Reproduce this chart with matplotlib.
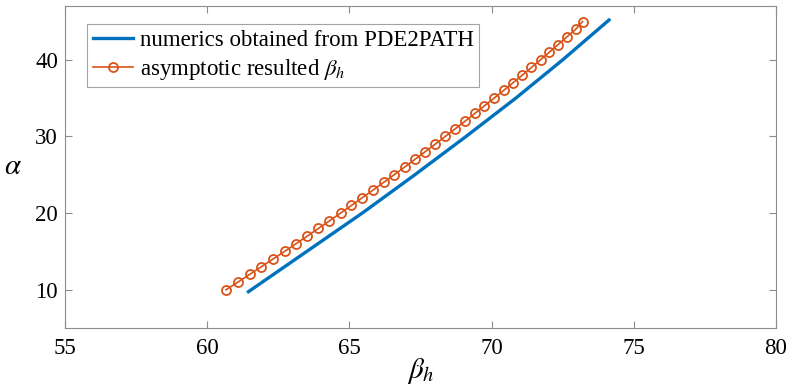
import numpy as np
import matplotlib.pyplot as plt

plt.rcParams['font.family'] = ['Liberation Serif', 'DejaVu Serif']
plt.rcParams['mathtext.fontset'] = 'stix'

# asymptotic result, one point per integer alpha
alpha_asym = list(range(10, 46))
beta_asym = [60.66, 61.08, 61.49, 61.90, 62.31, 62.72, 63.12, 63.52, 63.91, 64.30,
             64.69, 65.07, 65.45, 65.83, 66.20, 66.57, 66.94, 67.30, 67.66, 68.02,
             68.37, 68.72, 69.07, 69.41, 69.75, 70.09, 70.42, 70.75, 71.08, 71.40,
             71.72, 72.03, 72.34, 72.65, 72.96, 73.20]

# numerics (PDE2PATH continuation)
alpha_num = [9.75, 15, 20, 25, 30, 35, 40, 45.2]
beta_num = [61.45, 63.50, 65.45, 67.30, 69.10, 70.85, 72.50, 74.13]

fig = plt.figure(figsize=(7.87, 3.86), dpi=100)
ax = fig.add_axes([0.0826, 0.150, 0.9034, 0.834])

ax.plot(beta_num, alpha_num, color='#0072BD', lw=2.4, label='numerics obtained from PDE2PATH')
ax.plot(beta_asym, alpha_asym, color='#D95319', lw=1.2, marker='o', ms=6.5,
        mfc='none', mew=1.3, label=r'asymptotic resulted $\beta_h$')

ax.set_xlim(55, 80)
ax.set_ylim(5, 47)
ax.set_xticks([55, 60, 65, 70, 75, 80])
ax.set_yticks([10, 20, 30, 40])

for s in ax.spines.values():
    s.set_color('#8c8c8c')
    s.set_linewidth(0.8)
ax.tick_params(direction='in', length=5, width=0.8, color='#8c8c8c',
               labelsize=16.5, top=True, right=True)
ax.tick_params(axis='x', pad=7)
ax.tick_params(axis='y', pad=5)

ax.set_xlabel(r'$\beta_h$', fontsize=21, labelpad=-2)
ax.set_ylabel(r'$\alpha$', fontsize=21, rotation=0, labelpad=16, va='center')

leg = ax.legend(loc='upper left', bbox_to_anchor=(0.031, 0.944), fontsize=16.5,
                frameon=True, fancybox=False, borderpad=0.25, handlelength=1.75,
                handletextpad=0.3, labelspacing=0.25, borderaxespad=0)
leg.get_frame().set_edgecolor('#8c8c8c')
leg.get_frame().set_linewidth(0.8)

fig.savefig('out.png', dpi=100)
